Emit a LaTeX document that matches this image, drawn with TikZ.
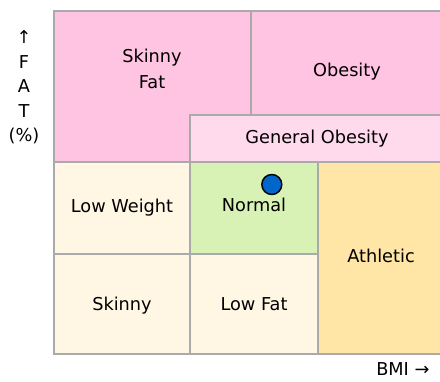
\documentclass[tikz,border=0pt]{standalone}
\usepackage{fontspec}
\setmainfont{DejaVu Sans}
\usepackage{xcolor}
\usepackage{tikz}

\definecolor{fatpink}{HTML}{FFC4E1}
\definecolor{obpink}{HTML}{FFD9EC}
\definecolor{lowcream}{HTML}{FFF7E4}
\definecolor{normgreen}{HTML}{D7F2B4}
\definecolor{athyellow}{HTML}{FFE6A6}
\definecolor{gridgray}{HTML}{AAAAAA}
\definecolor{dotblue}{HTML}{0066CC}

\tikzset{
  cell/.style={draw=gridgray, line width=1.5pt},
  lbl/.style={font=\fontsize{13.3}{19.2}\selectfont, inner sep=0pt, anchor=base, align=center}
}

\begin{document}
\begin{tikzpicture}[x=0.75pt, y=-0.75pt]
\useasboundingbox (0,0) rectangle (440,382);
\clip (0,0) rectangle (440,382);

% upper row
\path[cell, fill=fatpink] (54,10.5) rectangle (250.5,162);
\path[cell, fill=fatpink] (250.5,10.5) rectangle (444,115);
\path[cell, fill=obpink] (190,115) rectangle (444,162);

% lower rows
\path[cell, fill=lowcream] (54,162) rectangle (190,253.5);
\path[cell, fill=normgreen] (190,162) rectangle (318,253.5);
\path[cell, fill=athyellow] (318,162) rectangle (444,354);
\path[cell, fill=lowcream] (54,253.5) rectangle (190,354);
\path[cell, fill=lowcream] (190,253.5) rectangle (318,354);

% labels
\node[lbl] (skinnyfat) at (152,88.3) {Skinny\\Fat};
\node[lbl] (obesity) at (347,76.7) {Obesity};
\node[lbl] (genobesity) at (317,143.3) {General Obesity};
\node[lbl] (lowweight) at (122,212.3) {Low Weight};
\node[lbl] (normal) at (254,211.7) {Normal};
\node[lbl] (athletic) at (381,262.7) {Athletic};
\node[lbl] (skinny) at (122,310) {Skinny};
\node[lbl] (lowfat) at (254,310) {Low Fat};

% marker
\node[circle, fill=dotblue, draw=black, line width=1.1pt, minimum size=15pt, inner sep=0pt] (dot) at (271.8,184.5) {};

% axes
\node[lbl, font=\fontsize{13.3}{18.4}\selectfont] (fataxis) at (24,142) {↑\\F\\A\\T\\(\%)};
\node[lbl, anchor=base west] (bmiaxis) at (376,375.7) {BMI →};
\end{tikzpicture}
\end{document}
